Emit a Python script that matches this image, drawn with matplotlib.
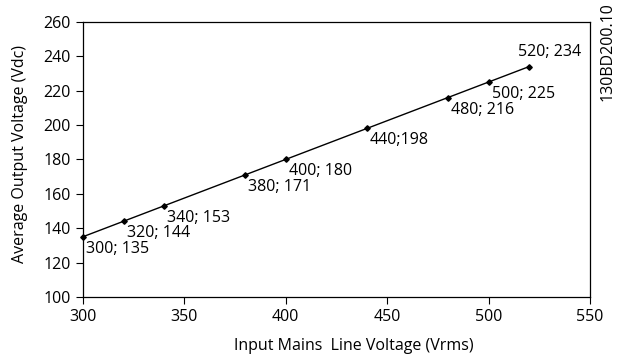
import matplotlib.pyplot as plt

plt.rcParams['font.family'] = ['Open Sans', 'DejaVu Sans']

voltage_in = [300, 320, 340, 380, 400, 440, 480, 500, 520]
voltage_out = [135, 144, 153, 171, 180, 198, 216, 225, 234]
point_labels = ['300; 135', '320; 144', '340; 153', '380; 171', '400; 180',
                '440;198', '480; 216', '500; 225', '520; 234']

fs = 11.5

fig = plt.figure(figsize=(6.19, 3.59), dpi=100)
ax = fig.add_axes([0.134, 0.173, 0.819, 0.766])

ax.plot(voltage_in, voltage_out, color='black', lw=1.0,
        marker='D', markersize=2.8, clip_on=False, zorder=3)

for x, y, s in zip(voltage_in, voltage_out, point_labels):
    if x == 520:
        # last label sits above the point
        ax.annotate(s, (x, y), xytext=(20, 7), textcoords='offset pixels',
                    ha='center', va='bottom', fontsize=fs)
    else:
        ax.annotate(s, (x, y), xytext=(3, -4), textcoords='offset pixels',
                    ha='left', va='top', fontsize=fs)

ax.set_xlim(300, 550)
ax.set_ylim(100, 260)
ax.set_xticks([300, 350, 400, 450, 500, 550])
ax.set_yticks(range(100, 261, 20))
ax.tick_params(direction='out', length=5, width=0.8, labelsize=fs, pad=4)
for sp in ax.spines.values():
    sp.set_linewidth(0.9)

ax.set_xlabel('Input Mains  Line Voltage (Vrms)', fontsize=fs)
ax.set_ylabel('Average Output Voltage (Vdc)', fontsize=fs)
ax.xaxis.set_label_coords(0.534, -0.15)
ax.yaxis.set_label_coords(-0.108, 0.52)

fig.text(0.981, 0.995, '130BD200.10', rotation=90, ha='center', va='top',
         fontsize=fs)

fig.savefig('out.png', dpi=100)
